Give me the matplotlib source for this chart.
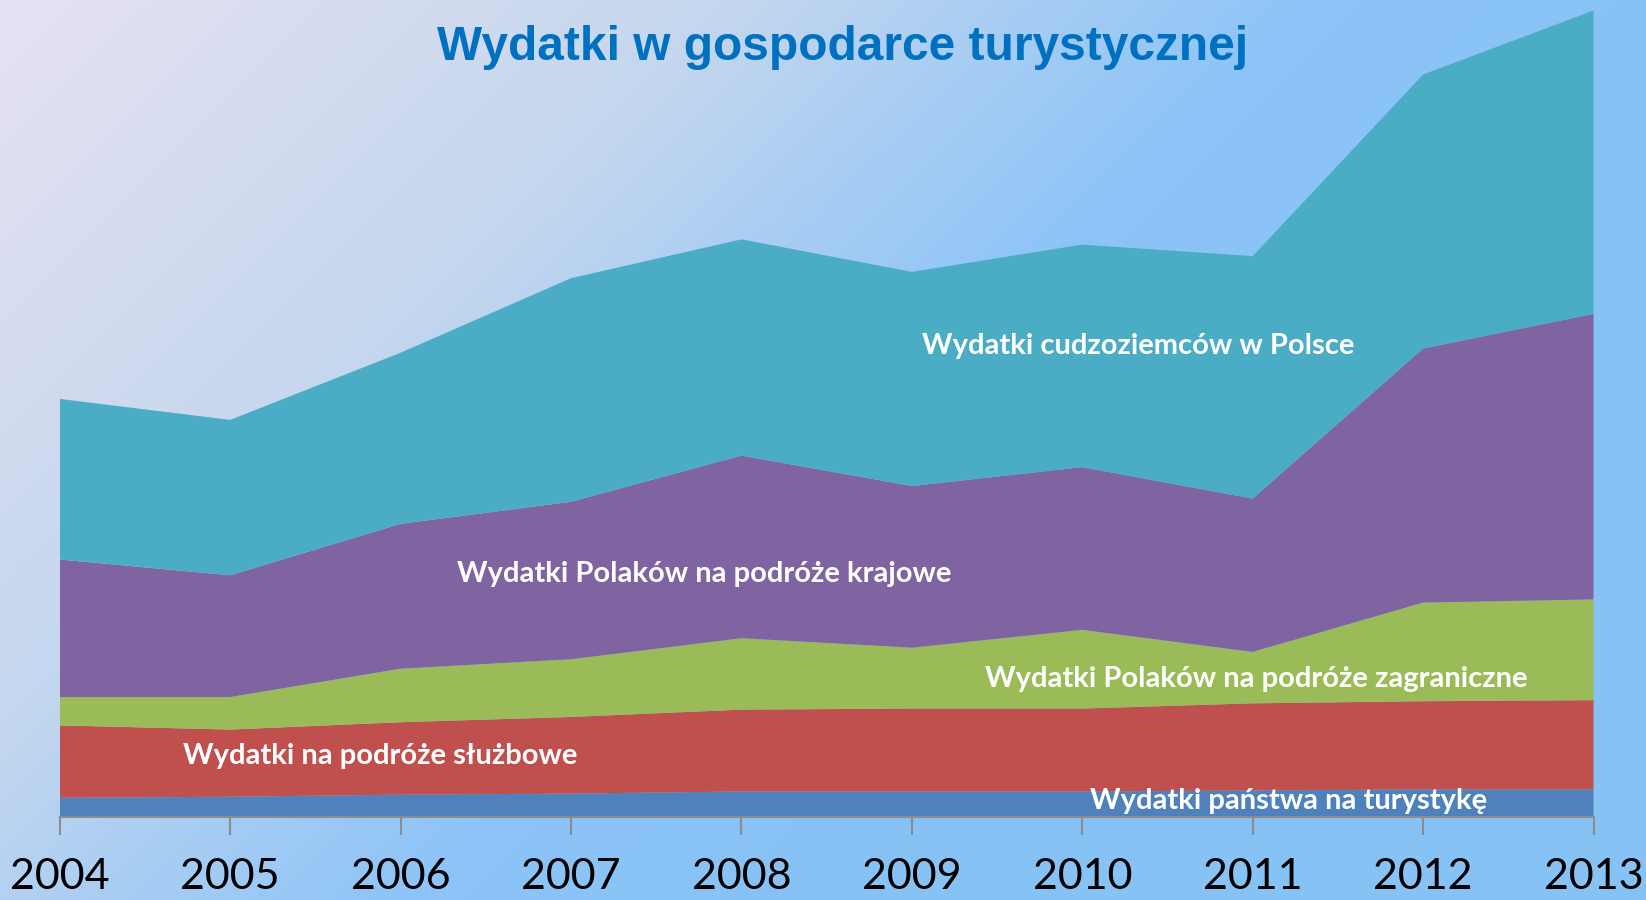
import matplotlib
matplotlib.use("Agg")
import matplotlib.pyplot as plt
import numpy as np
from matplotlib.colors import LinearSegmentedColormap

# dane (szacowane z wykresu)
years = [2004, 2005, 2006, 2007, 2008, 2009, 2010, 2011, 2012, 2013]
panstwo = [1.8, 1.9, 2.1, 2.2, 2.4, 2.4, 2.4, 2.5, 2.6, 2.6]
sluzbowe = [6.9, 6.4, 6.9, 7.3, 7.8, 7.9, 7.9, 8.3, 8.4, 8.5]
zagraniczne = [2.7, 3.1, 5.1, 5.5, 6.8, 5.8, 7.5, 4.9, 9.4, 9.6]
krajowe = [13.1, 11.6, 13.8, 15.0, 17.4, 15.4, 15.5, 14.6, 24.2, 27.2]
cudzoziemcy = [15.3, 14.8, 16.3, 21.3, 20.6, 20.4, 21.2, 23.1, 26.1, 28.9]

series_labels = ["Wydatki państwa na turystykę", "Wydatki na podróże służbowe",
                 "Wydatki Polaków na podróże zagraniczne",
                 "Wydatki Polaków na podróże krajowe",
                 "Wydatki cudzoziemców w Polsce"]
colors = ["#4F81BD", "#C0504D", "#9BBB59", "#8064A2", "#4BACC6"]

W, H = 1646, 900
fig = plt.figure(figsize=(W / 100, H / 100), dpi=100)

# tło - gradient
bg = fig.add_axes([0, 0, 1, 1])
xx, yy = np.meshgrid(np.linspace(0, 1, 400), np.linspace(0, 1, 220))
t = np.clip((xx * 1.0 + yy * 0.55) / 1.1, 0, 1)
cmap = LinearSegmentedColormap.from_list(
    "bg", [(0, "#E6E1F3"), (0.4, "#C4D7EE"), (0.72, "#8EC4F8"), (1.0, "#86C2F4")])
bg.imshow(t, cmap=cmap, aspect="auto", extent=[0, 1, 0, 1], origin="upper")
bg.set_axis_off()

ax = fig.add_axes([59.8 / W, (H - 816.7) / H, (1593.5 - 59.8) / W, (816.7 - 10.5) / H])
ax.patch.set_alpha(0)
ax.stackplot(years, panstwo, sluzbowe, zagraniczne, krajowe, cudzoziemcy,
             colors=colors, linewidth=0)
total = np.sum([panstwo, sluzbowe, zagraniczne, krajowe, cudzoziemcy], axis=0)
ax.set_xlim(years[0], years[-1])
ax.set_ylim(0, total.max())

for s in ["top", "right", "left"]:
    ax.spines[s].set_visible(False)
ax.spines["bottom"].set_color("#8C8C8C")
ax.spines["bottom"].set_linewidth(1.5)
ax.set_yticks([])
ax.set_xticks(years)
ax.set_xticklabels([str(y) for y in years], fontsize=31, family="Lato")
ax.tick_params(axis="x", length=13, width=1.5, color="#8C8C8C", pad=17)

lab = dict(color="white", fontsize=21, fontweight="bold", family="Lato",
           ha="center", va="center")
ax.text(2010.33, 44.8, series_labels[4], **lab)
ax.text(2007.78, 23.1, series_labels[3], **lab)
ax.text(2011.02, 13.1, series_labels[2], **lab)
ax.text(2005.88, 5.8, series_labels[1], **lab)
ax.text(2011.21, 1.5, series_labels[0], **lab)

fig.text(803 * 1.0497 / W, 1 - 45 * 1.0497 / H, "Wydatki w gospodarce turystycznej",
         ha="center", va="center", fontsize=34.5, fontweight="bold",
         family="Liberation Sans", color="#0070C0")

fig.savefig("out.png", dpi=100)
